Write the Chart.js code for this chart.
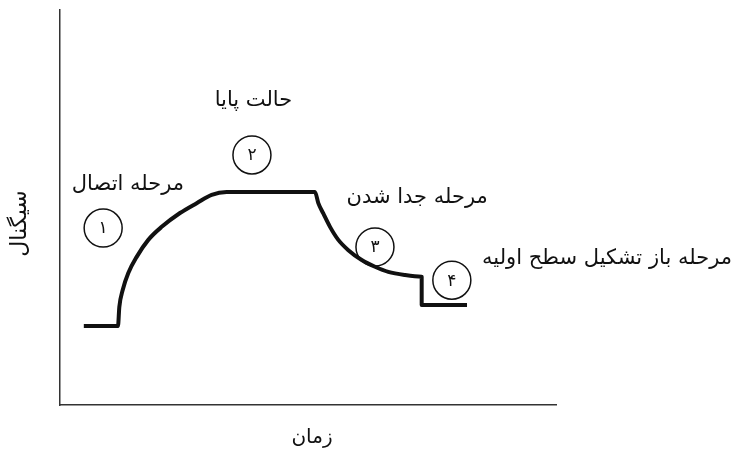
<!DOCTYPE html>
<html>
<head>
<meta charset="utf-8">
<script src="https://cdn.jsdelivr.net/npm/chart.js@4.4.1/dist/chart.umd.min.js"></script>
<style>
html,body{margin:0;padding:0;background:#fff;}
#wrap{width:736px;height:452px;position:relative;}
</style>
</head>
<body>
<div id="wrap"><canvas id="c" width="736" height="452"></canvas></div>
<script>
// Time (arbitrary units, 0-100) and signal (arbitrary units, 0-100)
const timeValues = [4.8, 11.69, 11.96, 12.64, 13.77, 15.46, 17.8, 20.5, 24.19, 27.56, 30.58, 33.6,
  51.41, 52.08, 53.08, 54.44, 56.11, 58.13, 60.83, 63.51, 66.19, 69.56, 72.92, 72.92, 82.06];
const signalValues = [20.0, 20.0, 24.8, 29.1, 33.4, 37.5, 41.8, 45.1, 48.6, 51.1, 53.2, 53.9,
  53.9, 51.1, 48.5, 45.1, 41.8, 39.2, 36.7, 35.0, 33.7, 32.9, 32.5, 25.3, 25.3];

// Phase markers (circled numbers)
const markerLabels = ['۱', '۲', '۳', '۴'];
const markerTime = [8.7, 38.7, 63.5, 79.0];
const markerSignal = [44.8, 63.3, 40.0, 31.6];

// Phase names
const phaseLabels = ['مرحله اتصال', 'حالت پایا', 'مرحله جدا شدن', 'مرحله باز تشکیل سطح اولیه'];
const phaseTime = [13.7, 39.0, 72.0, 85.1];
const phaseSignal = [55.9, 77.0, 52.4, 37.0];
const phaseAlign = ['center', 'center', 'center', 'left'];

const xTitle = 'زمان';
const yTitle = 'سیگنال';

const FONT = '"DejaVu Sans", "Noto Sans", sans-serif';

const points = timeValues.map((t, i) => ({x: t, y: signalValues[i]}));

const annotPlugin = {
  id: 'annot',
  afterDatasetsDraw(chart) {
    const ctx = chart.ctx;
    const xs = chart.scales.x, ys = chart.scales.y;
    ctx.save();
    ctx.strokeStyle = '#111';
    ctx.lineWidth = 1.5;
    ctx.fillStyle = '#111';
    ctx.textAlign = 'center';
    ctx.textBaseline = 'middle';
    ctx.font = '17px ' + FONT;
    markerLabels.forEach((lab, i) => {
      const px = xs.getPixelForValue(markerTime[i]);
      const py = ys.getPixelForValue(markerSignal[i]);
      ctx.beginPath();
      ctx.arc(px, py, 19, 0, Math.PI * 2);
      ctx.stroke();
      ctx.fillText(lab, px, py + 1);
    });
    ctx.font = '21px ' + FONT;
    ctx.direction = 'rtl';
    phaseLabels.forEach((lab, i) => {
      const px = xs.getPixelForValue(phaseTime[i]);
      const py = ys.getPixelForValue(phaseSignal[i]);
      const w = ctx.measureText(lab).width;
      let cx = px;
      if (phaseAlign[i] === 'left') cx = px + w / 2;
      ctx.textAlign = 'center';
      ctx.fillText(lab, cx, py);
    });
    ctx.font = '20px ' + FONT;
    ctx.textAlign = 'center';
    ctx.fillText(xTitle, (xs.left + xs.right) / 2 + 4, xs.bottom + 33);
    ctx.font = '22px ' + FONT;
    ctx.save();
    ctx.translate(20, (ys.top + ys.bottom) / 2 + 16);
    ctx.rotate(-Math.PI / 2);
    ctx.fillText(yTitle, 0, 0);
    ctx.restore();
    ctx.restore();
  }
};

new Chart(document.getElementById('c'), {
  type: 'line',
  data: {
    datasets: [{
      data: points,
      borderColor: '#111',
      borderWidth: 4,
      pointRadius: 0,
      cubicInterpolationMode: 'monotone',
      fill: false,
      borderJoinStyle: 'round',
      borderCapStyle: 'butt'
    }]
  },
  options: {
    responsive: false,
    animation: false,
    events: [],
    layout: {padding: {left: 60, top: 10, right: 180, bottom: 47}},
    plugins: {legend: {display: false}, tooltip: {enabled: false}},
    scales: {
      x: {
        type: 'linear', min: 0, max: 100,
        ticks: {display: false},
        grid: {display: false},
        border: {display: true, color: '#333', width: 1.5},
        afterFit(s) { s.height = 0; }
      },
      y: {
        type: 'linear', min: 0, max: 100,
        ticks: {display: false},
        grid: {display: false},
        border: {display: true, color: '#333', width: 1.5},
        afterFit(s) { s.width = 0; }
      }
    }
  },
  plugins: [annotPlugin]
});
</script>
</body>
</html>
